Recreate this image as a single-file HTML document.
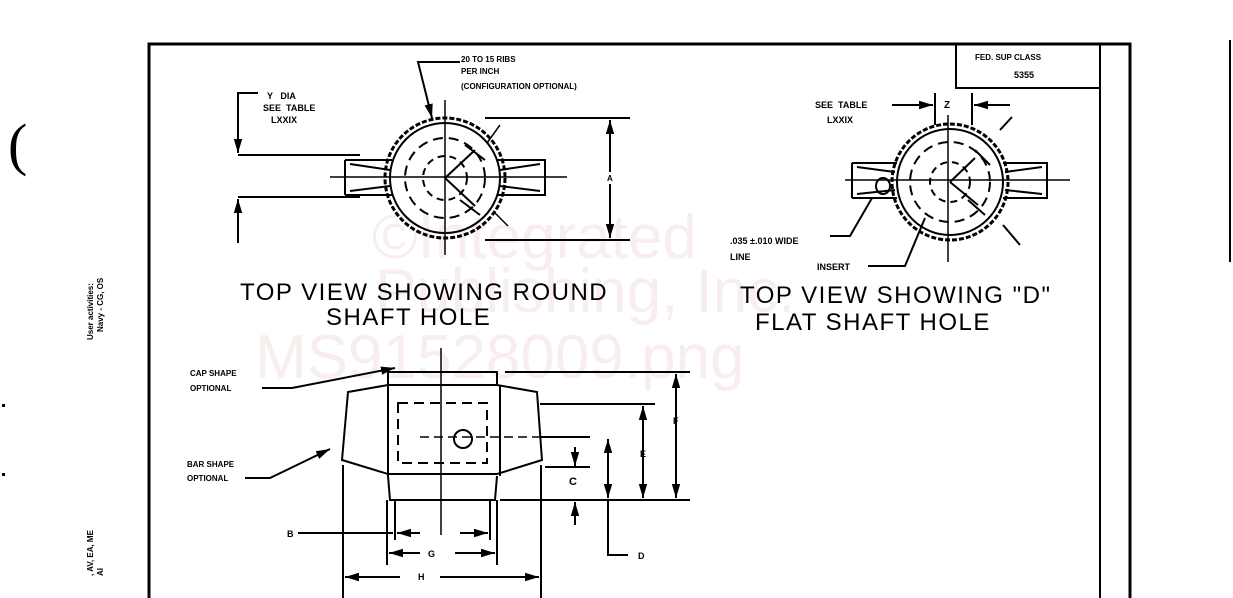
<!DOCTYPE html>
<html><head><meta charset="utf-8"><style>
html,body{margin:0;padding:0;background:#fff;}
svg{display:block}
text{font-family:"Liberation Sans",sans-serif;fill:#000}
.s{font-size:9px;font-weight:bold}
.t{font-size:24px;letter-spacing:1.5px}
.w{font-size:62px;fill:#f8eeee}
</style></head><body>
<svg width="1233" height="598" viewBox="0 0 1233 598" xmlns="http://www.w3.org/2000/svg">
<defs>
<marker id="a" viewBox="0 0 10 10" refX="10" refY="5" markerWidth="7" markerHeight="7" orient="auto-start-reverse"><path d="M0,2 L10,5 L0,8z" fill="#000"/></marker>
</defs>
<!-- watermark -->
<text class="w" x="372" y="258">©Integrated</text>
<text class="w" x="375" y="312">Publishing, Inc.</text>
<text class="w" x="255" y="378">MS91528009.png</text>

<g stroke="#000" fill="none" stroke-width="2">
<path d="M149,598 V44 H1130 V598" stroke-width="3"/>
<path d="M1100,88 V598" stroke-width="2"/>
<rect x="956" y="44" width="144" height="44"/>
<path d="M1230,40 V262" stroke-width="2"/>
</g>
<text class="s" x="975" y="60" style="font-size:8px">FED. SUP CLASS</text>
<text class="s" x="1014" y="78">5355</text>

<text x="8" y="164" style="font-size:58px;font-family:'Liberation Serif',serif">(</text>
<text class="s" transform="translate(93,340) rotate(-90)" style="font-size:8px">User activities:</text>
<text class="s" transform="translate(103,332) rotate(-90)" style="font-size:8px">Navy - CG, OS</text>
<text class="s" transform="translate(93,576) rotate(-90)" style="font-size:8px">, AV, EA, ME</text>
<text class="s" transform="translate(103,576) rotate(-90)" style="font-size:8px">AI</text>
<rect x="2" y="404" width="3" height="3"/><rect x="2" y="473" width="3" height="3"/>

<!-- LEFT TOP VIEW -->
<g stroke="#000" fill="none" stroke-width="2">
<circle cx="445" cy="178" r="60" stroke-dasharray="5 2" stroke-width="3"/>
<circle cx="445" cy="178" r="55"/>
<circle cx="445" cy="178" r="40" stroke-dasharray="10 6"/>
<circle cx="445" cy="178" r="22" stroke-dasharray="7 5"/>
<path d="M345,160 H392 M345,195 H392 M345,160 V195 M350,164 L390,170 M350,191 L390,186"/>
<path d="M497,160 H545 V195 H497 M540,164 L500,170 M540,191 L500,186"/>
<path d="M330,177 H567 M445,100 V255" stroke-width="1.5"/>
<path d="M445,178 L475,150 M445,178 L475,206 M465,145 L485,160 M460,200 L480,215" stroke-width="2"/>
<path d="M485,118 H630 M485,240 H630"/>
<path d="M610,120 V238" marker-start="url(#a)" marker-end="url(#a)"/>
<path d="M238,155 H360 M238,197 H360"/>
<path d="M258,93 H238 V153" marker-end="url(#a)"/>
<path d="M238,243 V199" marker-end="url(#a)"/>
<path d="M460,62 H418 L432,118" marker-end="url(#a)"/>
<path d="M487,143 L500,125 M495,213 L508,226" stroke-width="1.5"/>
</g>
<rect x="604" y="172" width="12" height="12" fill="#fff"/>
<text class="s" x="607" y="181" style="font-size:8px">A</text>
<text class="s" x="267" y="99">Y &#160; DIA</text>
<text class="s" x="263" y="111">SEE &#160;TABLE</text>
<text class="s" x="271" y="123">LXXIX</text>
<text class="s" x="461" y="62" style="font-size:8px">20 TO 15 RIBS</text>
<text class="s" x="461" y="74" style="font-size:8px">PER INCH</text>
<text class="s" x="461" y="89" style="font-size:8px">(CONFIGURATION OPTIONAL)</text>
<text class="t" x="240" y="300">TOP VIEW SHOWING ROUND</text>
<text class="t" x="326" y="325">SHAFT HOLE</text>

<!-- RIGHT TOP VIEW -->
<g stroke="#000" fill="none" stroke-width="2">
<circle cx="950" cy="182" r="58" stroke-dasharray="5 2" stroke-width="3"/>
<circle cx="950" cy="182" r="53"/>
<circle cx="950" cy="182" r="40" stroke-dasharray="10 6"/>
<circle cx="950" cy="182" r="20" stroke-dasharray="7 5"/>
<path d="M852,163 H897 M852,198 H897 M852,163 V198 M857,167 L895,172 M857,194 L895,190"/>
<ellipse cx="883" cy="186" rx="7" ry="8"/>
<path d="M1003,163 H1047 V198 H1003 M1042,167 L1005,172 M1042,194 L1005,190"/>
<path d="M845,180 H1070 M948,115 V262" stroke-width="1.5"/>
<path d="M950,182 L975,158 M950,182 L978,205 M968,200 L985,215 M975,150 L990,165 M1000,130 L1012,117 M1003,225 L1020,245" stroke-width="2"/>
<path d="M935,93 V125 M972,93 V125"/>
<path d="M892,105 H933" marker-end="url(#a)"/>
<path d="M1010,105 H974" marker-end="url(#a)"/>
<path d="M830,236 H850 L872,198"/>
<path d="M868,266 H905 L925,218"/>
</g>
<text class="s" x="815" y="108">SEE &#160;TABLE</text>
<text class="s" x="827" y="123">LXXIX</text>
<text class="s" x="944" y="108" style="font-size:10px">Z</text>
<text class="s" x="730" y="244">.035 ±.010 WIDE</text>
<text class="s" x="730" y="260">LINE</text>
<text class="s" x="817" y="270">INSERT</text>
<text class="t" x="740" y="303">TOP VIEW SHOWING "D"</text>
<text class="t" x="755" y="330">FLAT SHAFT HOLE</text>

<!-- SIDE VIEW -->
<g stroke="#000" fill="none" stroke-width="2">
<path d="M388,385 V372 H497 V385"/>
<path d="M348,392 L388,385 H497 L537,392 L542,460 L497,474 H388 L342,460 Z"/>
<path d="M388,385 V476 M500,385 V476"/>
<path d="M388,476 L390,500 H495 L497,476"/>
<rect x="398" y="403" width="89" height="60" stroke-dasharray="10 6"/>
<path d="M441,348 V535" stroke-width="1.5"/>
<path d="M420,437 H540" stroke-dasharray="9 5" stroke-width="1.5"/>
<circle cx="463" cy="439" r="9"/>
<path d="M505,372 H690 M540,404 H655 M540,437 H590 M545,467 H590 M500,500 H690"/>
<path d="M676,374 V498" marker-start="url(#a)" marker-end="url(#a)"/>
<path d="M643,406 V498" marker-start="url(#a)" marker-end="url(#a)"/>
<path d="M608,439 V498" marker-start="url(#a)" marker-end="url(#a)"/>
<path d="M608,500 V555 H628"/>
<path d="M575,447 V466" marker-end="url(#a)"/>
<path d="M575,525 V502" marker-end="url(#a)"/>
<path d="M387,500 V565 M497,500 V565 M395,500 V540 M490,500 V540"/>
<path d="M420,553 H389" marker-end="url(#a)"/>
<path d="M455,553 H495" marker-end="url(#a)"/>
<path d="M298,533 H393" />
<path d="M420,533 H397" marker-end="url(#a)"/>
<path d="M460,533 H488" marker-end="url(#a)"/>
<path d="M343,465 V598 M541,465 V598"/>
<path d="M400,577 H345" marker-end="url(#a)"/>
<path d="M440,577 H539" marker-end="url(#a)"/>
<path d="M262,388 H292 L395,368" marker-end="url(#a)"/>
<path d="M245,478 H270 L330,449" marker-end="url(#a)"/>
</g>
<text class="s" x="190" y="376" style="font-size:8px">CAP SHAPE</text>
<text class="s" x="190" y="391" style="font-size:8px">OPTIONAL</text>
<text class="s" x="187" y="467" style="font-size:8px">BAR SHAPE</text>
<text class="s" x="187" y="481" style="font-size:8px">OPTIONAL</text>
<text class="s" x="673" y="424">F</text>
<text class="s" x="640" y="457">E</text>
<text class="s" x="569" y="485" style="font-size:11px">C</text>
<text class="s" x="638" y="559">D</text>
<text class="s" x="287" y="537">B</text>
<text class="s" x="428" y="557">G</text>
<text class="s" x="418" y="580">H</text>
</svg>
</body></html>
